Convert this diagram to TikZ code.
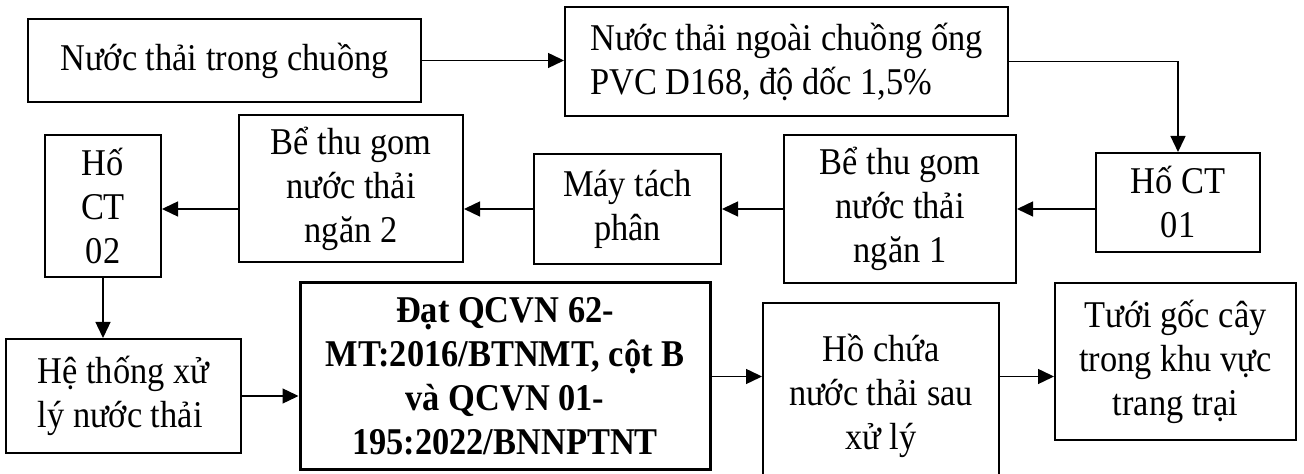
\documentclass[tikz,border=0pt]{standalone}
\usepackage{fontspec}
\setmainfont{Liberation Serif}[FakeStretch=0.91]
\usetikzlibrary{arrows.meta,positioning}
\tikzset{>={Triangle[length=8pt,width=7.5pt]}}
\tikzset{box/.style={draw, line width=1pt, align=center, inner sep=0pt, font=\fontsize{18.9}{22}\selectfont}}
\tikzset{boldbox/.style={box, line width=1.5pt, font=\fontsize{18.9}{22}\selectfont\bfseries}}
\tikzset{flow/.style={->, line width=0.7pt}}

\begin{document}
\begin{tikzpicture}[x=0.5pt, y=-0.5pt]
      \useasboundingbox (0,0) rectangle (1304,474);
      \clip (0,0) rectangle (1304,474);
      % top row
      \node[box, minimum width=196.5pt, minimum height=41.5pt] (chuong) at (224.5,60.5) {Nước thải trong chuồng};
      \node[box, align=left, minimum width=221.5pt, minimum height=54.5pt] (ngoai) at (786.5,61.5) {Nước thải ngoài chuồng ống\\PVC D168, độ dốc 1,5\%};
      % middle row
      \node[box, minimum width=82pt, minimum height=49.5pt] (ct01) at (1178,202.5) {Hố CT\\01};
      \node[box, minimum width=116pt, minimum height=74pt] (ngan1) at (900,209) {Bể thu gom\\nước thải\\ngăn 1};
      \node[box, minimum width=93.5pt, minimum height=55pt] (may) at (627.5,209) {Máy tách\\phân};
      \node[box, minimum width=112pt, minimum height=73.5pt] (ngan2) at (351,188.5) {Bể thu gom\\nước thải\\ngăn 2};
      \node[box, minimum width=58pt, minimum height=71pt] (ct02) at (103,206) {Hố\\CT\\02};
      % bottom row
      \node[box, align=left, minimum width=117.5pt, minimum height=57pt] (xuly) at (123.5,396) {Hệ thống xử\\lý nước thải};
      \node[boldbox, minimum width=205pt, minimum height=93.5pt] (dat) at (505,376.5) {Đạt QCVN 62-\\MT:2016/BTNMT, cột B\\và QCVN 01-\\195:2022/BNNPTNT};
      \node[box, minimum width=118pt, minimum height=93pt] (hochua) at (881,396) {Hồ chứa\\nước thải sau\\xử lý};
      \node[box, minimum width=120.5pt, minimum height=78.5pt] (tuoi) at (1175.5,361.5) {Tưới gốc cây\\trong khu vực\\trang trại};
      % connectors
      \draw[flow] (chuong.east) -- (chuong.east -| ngoai.west);
      \draw[flow] (ngoai.east) -| (ct01.north);
      \draw[flow] (ngan1.east -| ct01.west) -- (ngan1.east);
      \draw[flow] (ngan1.west) -- (may.east);
      \draw[flow] (may.west) -- (may.west -| ngan2.east);
      \draw[flow] (may.west -| ngan2.west) -- (may.west -| ct02.east);
      \draw[flow] (ct02.south) -- (ct02.south |- xuly.north);
      \draw[flow] (xuly.east) -- (xuly.east -| dat.west);
      \draw[flow] (dat.east) -- (dat.east -| hochua.west);
      \draw[flow] (dat.east -| hochua.east) -- (dat.east -| tuoi.west);
\end{tikzpicture}
\end{document}
